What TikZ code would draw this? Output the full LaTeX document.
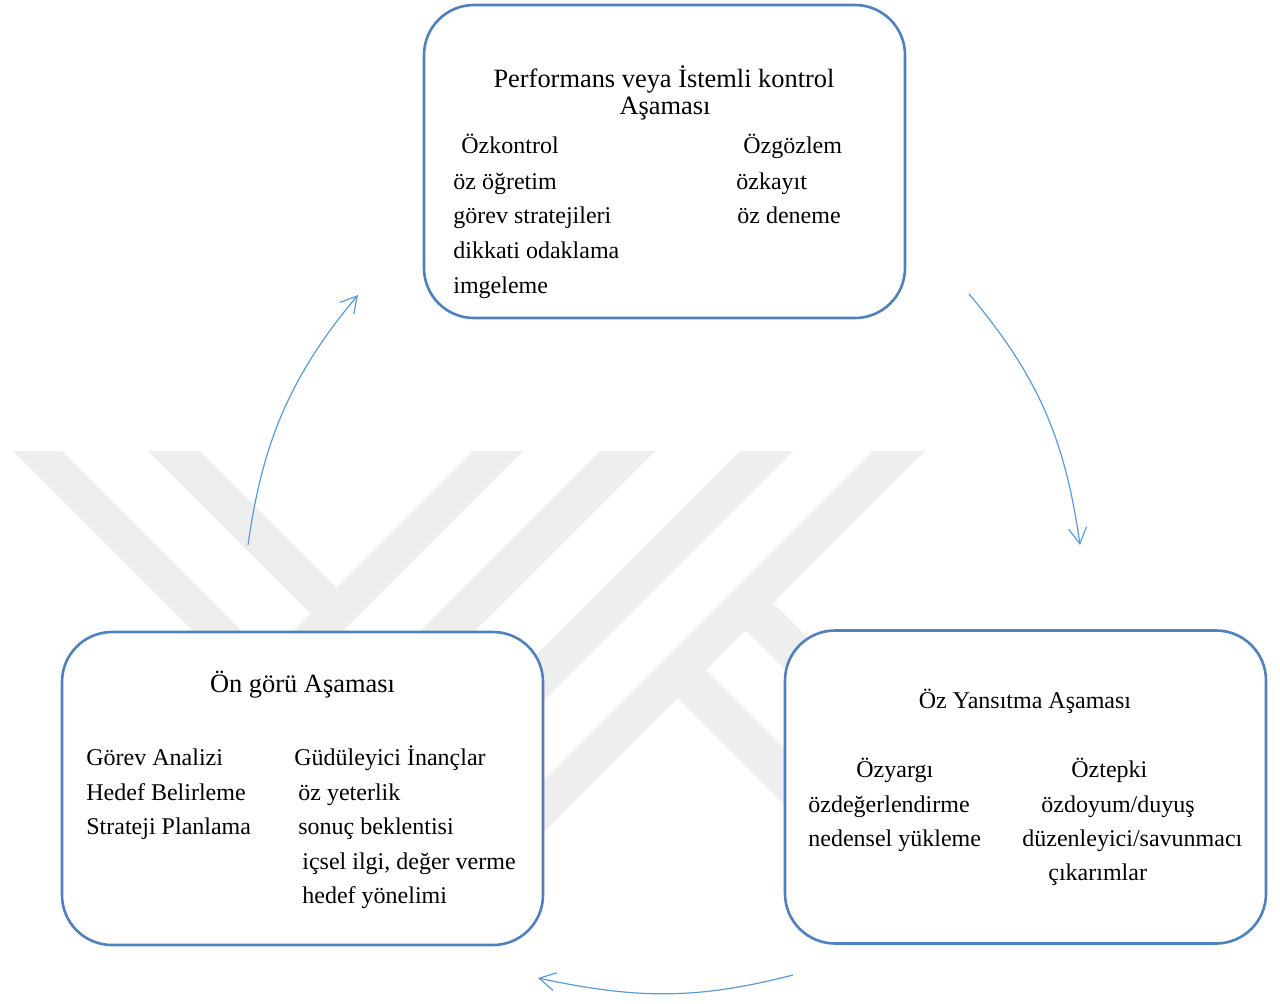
\documentclass[tikz,border=0pt]{standalone}
\usepackage{fontspec}
\setmainfont{Liberation Serif}
\usetikzlibrary{arrows.meta}
\definecolor{boxblue}{RGB}{79,129,189}
\definecolor{arrowblue}{RGB}{91,155,213}
\definecolor{wmgray}{RGB}{238,238,238}
\begin{document}
\begin{tikzpicture}[x=0.5pt,y=-0.5pt,
  phasebox/.style={draw=boxblue, line width=1.3pt, rounded corners=25pt, fill=white,
    minimum width=240.5pt, minimum height=156.5pt, inner sep=0pt},
  txt/.style={anchor=base west, inner sep=0pt, font=\fontsize{12pt}{14pt}\selectfont},
  ttl/.style={anchor=base, inner sep=0pt, font=\fontsize{13.2pt}{16pt}\selectfont},
  cyc/.style={draw=arrowblue, line width=0.6pt, -{Straight Barb[length=8pt,width=9pt]}},
  wmband/.style={fill=wmgray, draw=none}
]
\useasboundingbox[fill=white] (0,0) rectangle (1280,1003);

% watermark
\fill[wmband] (13,451) -- (62,451) -- (311,700) -- (262,700) -- cycle;
\fill[wmband] (148,451) -- (200,451) -- (336.5,587.5) -- (310.5,613.5) -- cycle;
\fill[wmband] (473,451) -- (523,451) -- (274,700) -- (224,700) -- cycle;
\fill[wmband] (600,451) -- (655,451) -- (406,700) -- (351,700) -- cycle;
\fill[wmband] (740,451) -- (793,451) -- (484,760) -- (431,760) -- cycle;
\fill[wmband] (873,451) -- (925,451) -- (476,900) -- (424,900) -- cycle;
\fill[wmband] (773,603) -- (746,630) -- (846,730) -- (873,703) -- cycle;
\fill[wmband] (706,670) -- (678,698) -- (828,848) -- (856,820) -- cycle;

% boxes
\node[phasebox] (perf) at (664.5,161.5) {};
\node[phasebox] (fore) at (302.5,788.5) {};
\node[phasebox] (refl) at (1025.5,787) {};

% box 1 text
\node[ttl] (p1) at (664,87) {Performans veya İstemli kontrol};
\node[ttl] (p2) at (665,114) {Aşaması};
\node[txt] (p3) at (461,153) {Özkontrol};
\node[txt] (p4) at (453,189) {öz öğretim};
\node[txt] (p5) at (453,223) {görev stratejileri};
\node[txt] (p6) at (453,258) {dikkati odaklama};
\node[txt] (p7) at (453,293) {imgeleme};
\node[txt] (p8) at (743,153) {Özgözlem};
\node[txt] (p9) at (736,189) {özkayıt};
\node[txt] (p10) at (737,223) {öz deneme};

% box 2 text
\node[ttl] (f1) at (302.5,692) {Ön görü Aşaması};
\node[txt] (f2) at (86,765) {Görev Analizi};
\node[txt] (f3) at (86,800) {Hedef Belirleme};
\node[txt] (f4) at (86,834) {Strateji Planlama};
\node[txt] (f5) at (294,765) {Güdüleyici İnançlar};
\node[txt] (f6) at (298,800) {öz yeterlik};
\node[txt] (f7) at (298,834) {sonuç beklentisi};
\node[txt] (f8) at (302,869) {içsel ilgi, değer verme};
\node[txt] (f9) at (302,903) {hedef yönelimi};

% box 3 text
\node[ttl, font=\fontsize{12pt}{14pt}\selectfont] (r1) at (1025,708) {Öz Yansıtma Aşaması};
\node[txt] (r2) at (856,777) {Özyargı};
\node[txt] (r3) at (808,812) {özdeğerlendirme};
\node[txt] (r4) at (808,846) {nedensel yükleme};
\node[txt] (r5) at (1071,777) {Öztepki};
\node[txt] (r6) at (1041,812) {özdoyum/duyuş};
\node[txt] (r7) at (1022,846) {düzenleyici/savunmacı};
\node[txt] (r8) at (1048,880) {çıkarımlar};

% cycle arrows
\coordinate (a1s) at (248,545);
\coordinate (a1e) at (358,295);
\coordinate (a2s) at (969,294);
\coordinate (a2e) at (1080,545);
\coordinate (a3s) at (793,975);
\coordinate (a3e) at (538,978);
\draw[cyc] (a1s) .. controls (262,445) and (289,377) .. (a1e);
\draw[cyc] (a2s) .. controls (1038,376) and (1065,439) .. (a2e);
\draw[cyc] (a3s) .. controls (696,1000) and (636,999) .. (a3e);
\end{tikzpicture}
\end{document}
